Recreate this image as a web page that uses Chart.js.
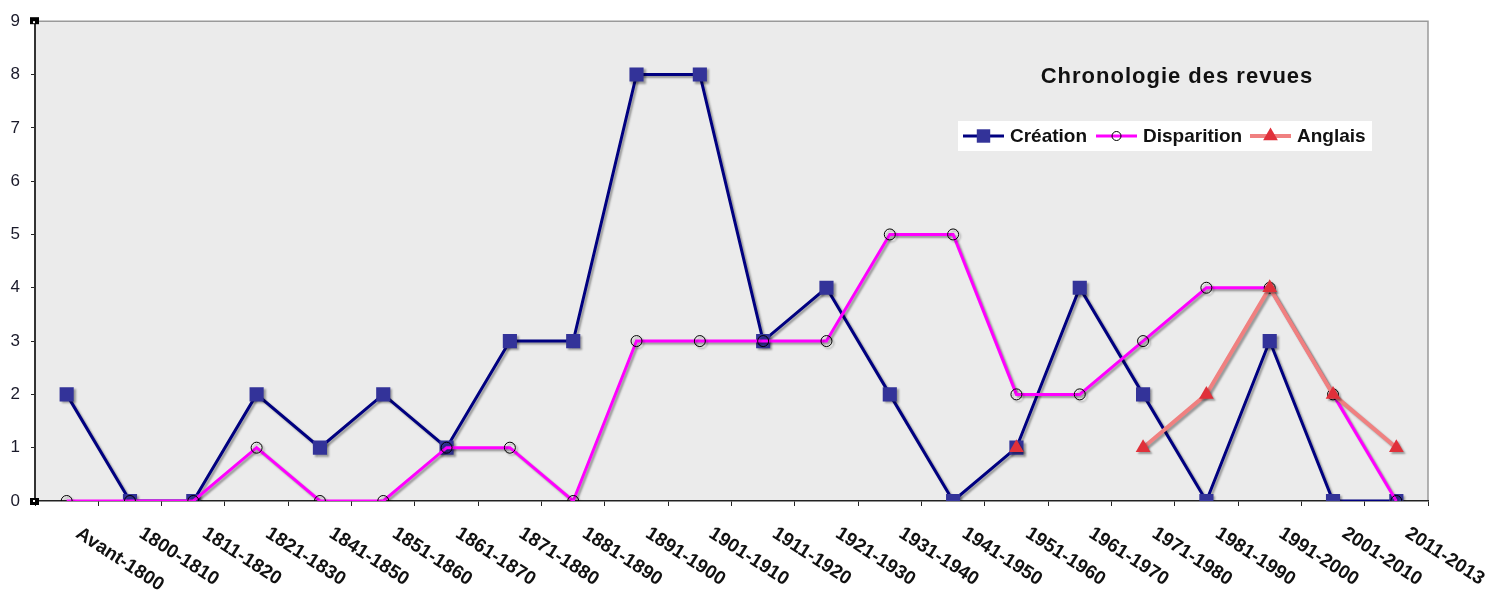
<!DOCTYPE html>
<html>
<head>
<meta charset="utf-8">
<script src="https://cdn.jsdelivr.net/npm/chart.js@4/dist/chart.umd.min.js"></script>
<style>
  html, body { margin: 0; padding: 0; background: #ffffff; }
  #wrap { width: 1493px; height: 594px; position: relative; }
</style>
</head>
<body>
<div id="wrap"><canvas id="c" width="1493" height="594"></canvas></div>
<script>
// Periods on the horizontal axis
const categories = [
  'Avant-1800', '1800-1810', '1811-1820', '1821-1830', '1841-1850', '1851-1860',
  '1861-1870', '1871-1880', '1881-1890', '1891-1900', '1901-1910', '1911-1920',
  '1921-1930', '1931-1940', '1941-1950', '1951-1960', '1961-1970', '1971-1980',
  '1981-1990', '1991-2000', '2001-2010', '2011-2013'
];

// Number of journals per period
const creation    = [2, 0, 0, 2, 1, 2, 1, 3, 3, 8, 8, 3, 4, 2, 0, 1, 4, 2, 0, 3, 0, 0];
const disparition = [0, 0, 0, 1, 0, 0, 1, 1, 0, 3, 3, 3, 3, 5, 5, 2, 2, 3, 4, 4, 2, 0];
const anglais     = [null, null, null, null, null, null, null, null, null, null, null,
                     null, null, null, null, 1, null, 1, 2, 4, 2, 1];

const seriesNames = ['Création', 'Disparition', 'Anglais'];
const yTicks = [0, 1, 2, 3, 4, 5, 6, 7, 8, 9];
const chartTitle = 'Chronologie des revues';

const FONT = '"Liberation Sans", Arial, Helvetica, sans-serif';

// Gray plot background with light top/right frame, plus small corner handles
const plotBackground = {
  id: 'plotBackground',
  beforeDraw(chart) {
    const { ctx, chartArea: a } = chart;
    ctx.save();
    ctx.fillStyle = '#ebebeb';
    ctx.fillRect(a.left, a.top, a.right - a.left, a.bottom - a.top);
    ctx.strokeStyle = '#9a9a9a';
    ctx.lineWidth = 1.5;
    ctx.beginPath();
    ctx.moveTo(a.left, a.top);
    ctx.lineTo(a.right, a.top);
    ctx.lineTo(a.right, a.bottom);
    ctx.stroke();
    ctx.restore();
  },
  afterDraw(chart) {
    const { ctx, chartArea: a } = chart;
    ctx.save();
    ctx.fillStyle = '#000';
    ctx.fillRect(a.left - 5, a.top - 4, 9, 7);
    ctx.fillRect(a.left - 5, a.bottom - 3, 9, 7);
    ctx.fillStyle = '#fff';
    ctx.fillRect(a.left - 2, a.top, 2, 2);
    ctx.fillRect(a.left - 2, a.bottom - 1, 2, 2);
    ctx.restore();
  }
};

// Soft drop shadow under the series lines and markers
const seriesShadow = {
  id: 'seriesShadow',
  beforeDatasetDraw(chart) {
    const ctx = chart.ctx;
    ctx.save();
    ctx.shadowColor = 'rgba(0,0,0,0.35)';
    ctx.shadowOffsetX = 2;
    ctx.shadowOffsetY = 2;
    ctx.shadowBlur = 2;
  },
  afterDatasetDraw(chart) {
    chart.ctx.restore();
  }
};

// Marker shapes shared by the legend
function legendMarker(ctx, ds, mx, cy) {
  const r = ds.legendRadius;
  ctx.fillStyle = ds.pointBackgroundColor;
  ctx.strokeStyle = ds.pointBorderColor;
  ctx.lineWidth = ds.pointBorderWidth;
  ctx.beginPath();
  if (ds.pointStyle === 'rect') {
    const s = r * Math.SQRT1_2;
    ctx.rect(mx - s, cy - s, 2 * s, 2 * s);
  } else if (ds.pointStyle === 'circle') {
    ctx.arc(mx, cy, r, 0, Math.PI * 2);
  } else {
    ctx.moveTo(mx, cy - r);
    ctx.lineTo(mx + r * Math.sin(Math.PI / 3), cy + r / 2);
    ctx.lineTo(mx - r * Math.sin(Math.PI / 3), cy + r / 2);
    ctx.closePath();
  }
  ctx.fill();
  if (ds.pointBorderWidth > 0) ctx.stroke();
}

// Slanted period labels, title and legend box
const annotations = {
  id: 'annotations',
  afterDraw(chart) {
    const { ctx } = chart;
    const xs = chart.scales.x;
    const base = chart.chartArea.bottom;

    ctx.save();
    ctx.font = 'bold 19px ' + FONT;
    ctx.fillStyle = '#111';
    ctx.textAlign = 'left';
    ctx.textBaseline = 'top';
    categories.forEach((lab, i) => {
      const px = xs.getPixelForValue(i);
      ctx.save();
      ctx.translate(px + 16, base + 23);
      ctx.rotate(33 * Math.PI / 180);
      ctx.fillText(lab, 0, 0);
      ctx.restore();
    });
    ctx.restore();

    // Title
    ctx.save();
    ctx.font = 'bold 22px ' + FONT;
    ctx.fillStyle = '#111';
    ctx.textAlign = 'center';
    ctx.textBaseline = 'middle';
    if ('letterSpacing' in ctx) ctx.letterSpacing = '1px';
    ctx.fillText(chartTitle, 1177, 77);
    ctx.restore();

    // Legend
    const box = { x: 958, y: 121, w: 414, h: 30 };
    ctx.save();
    ctx.fillStyle = '#ffffff';
    ctx.fillRect(box.x, box.y, box.w, box.h);
    ctx.font = 'bold 19px ' + FONT;
    ctx.textBaseline = 'middle';
    ctx.textAlign = 'left';
    const cy = box.y + box.h / 2;
    const starts = [963, 1096, 1250];
    starts.forEach((x0, k) => {
      const ds = chart.data.datasets[k];
      const x1 = x0 + 41;
      ctx.strokeStyle = ds.borderColor;
      ctx.lineWidth = ds.borderWidth;
      ctx.beginPath();
      ctx.moveTo(x0, cy);
      ctx.lineTo(x1, cy);
      ctx.stroke();
      legendMarker(ctx, ds, (x0 + x1) / 2, cy);
      ctx.fillStyle = '#111';
      ctx.fillText(ds.label, x1 + 6, cy + 1);
    });
    ctx.restore();
  }
};

new Chart(document.getElementById('c'), {
  type: 'line',
  data: {
    labels: categories,
    datasets: [
      {
        label: seriesNames[0],
        data: creation,
        order: 2,
        borderColor: '#000080',
        borderWidth: 3,
        pointStyle: 'rect',
        pointRadius: 10,
        legendRadius: 9.5,
        pointBackgroundColor: '#333399',
        pointBorderColor: '#333399',
        pointBorderWidth: 0,
        tension: 0
      },
      {
        label: seriesNames[1],
        data: disparition,
        order: 1,
        borderColor: '#ff00ff',
        borderWidth: 3,
        pointStyle: 'circle',
        pointRadius: 5.5,
        legendRadius: 4.5,
        pointBackgroundColor: 'rgba(235,235,235,0)',
        pointBorderColor: '#000000',
        pointBorderWidth: 1,
        tension: 0
      },
      {
        label: seriesNames[2],
        data: anglais,
        order: 0,
        spanGaps: false,
        borderColor: '#f08080',
        borderWidth: 4,
        pointStyle: 'triangle',
        pointRadius: 8.5,
        legendRadius: 8.5,
        pointBackgroundColor: '#e0303a',
        pointBorderColor: '#e0303a',
        pointBorderWidth: 0,
        tension: 0
      }
    ]
  },
  options: {
    responsive: false,
    animation: false,
    devicePixelRatio: 1,
    layout: { padding: { top: 18, right: 65, left: 0, bottom: 0 } },
    plugins: {
      legend: { display: false },
      title: { display: false },
      tooltip: { enabled: false }
    },
    scales: {
      x: {
        type: 'category',
        offset: true,
        grid: {
          offset: true,
          drawOnChartArea: false,
          drawTicks: true,
          tickLength: 5,
          color: '#222',
          lineWidth: 1
        },
        border: { display: true, color: '#222', width: 1.5 },
        ticks: { display: false },
        afterFit(scale) { scale.height = 93; }
      },
      y: {
        min: 0,
        max: 9,
        afterBuildTicks(scale) { scale.ticks = yTicks.map(v => ({ value: v })); },
        grid: {
          drawOnChartArea: false,
          drawTicks: true,
          tickLength: 4,
          color: '#222'
        },
        border: { display: true, color: '#333', width: 2 },
        ticks: {
          color: '#1a1a2a',
          padding: 11,
          font: { family: FONT, size: 17 }
        },
        afterFit(scale) { scale.width = 35; }
      }
    }
  },
  plugins: [plotBackground, seriesShadow, annotations]
});
</script>
</body>
</html>
